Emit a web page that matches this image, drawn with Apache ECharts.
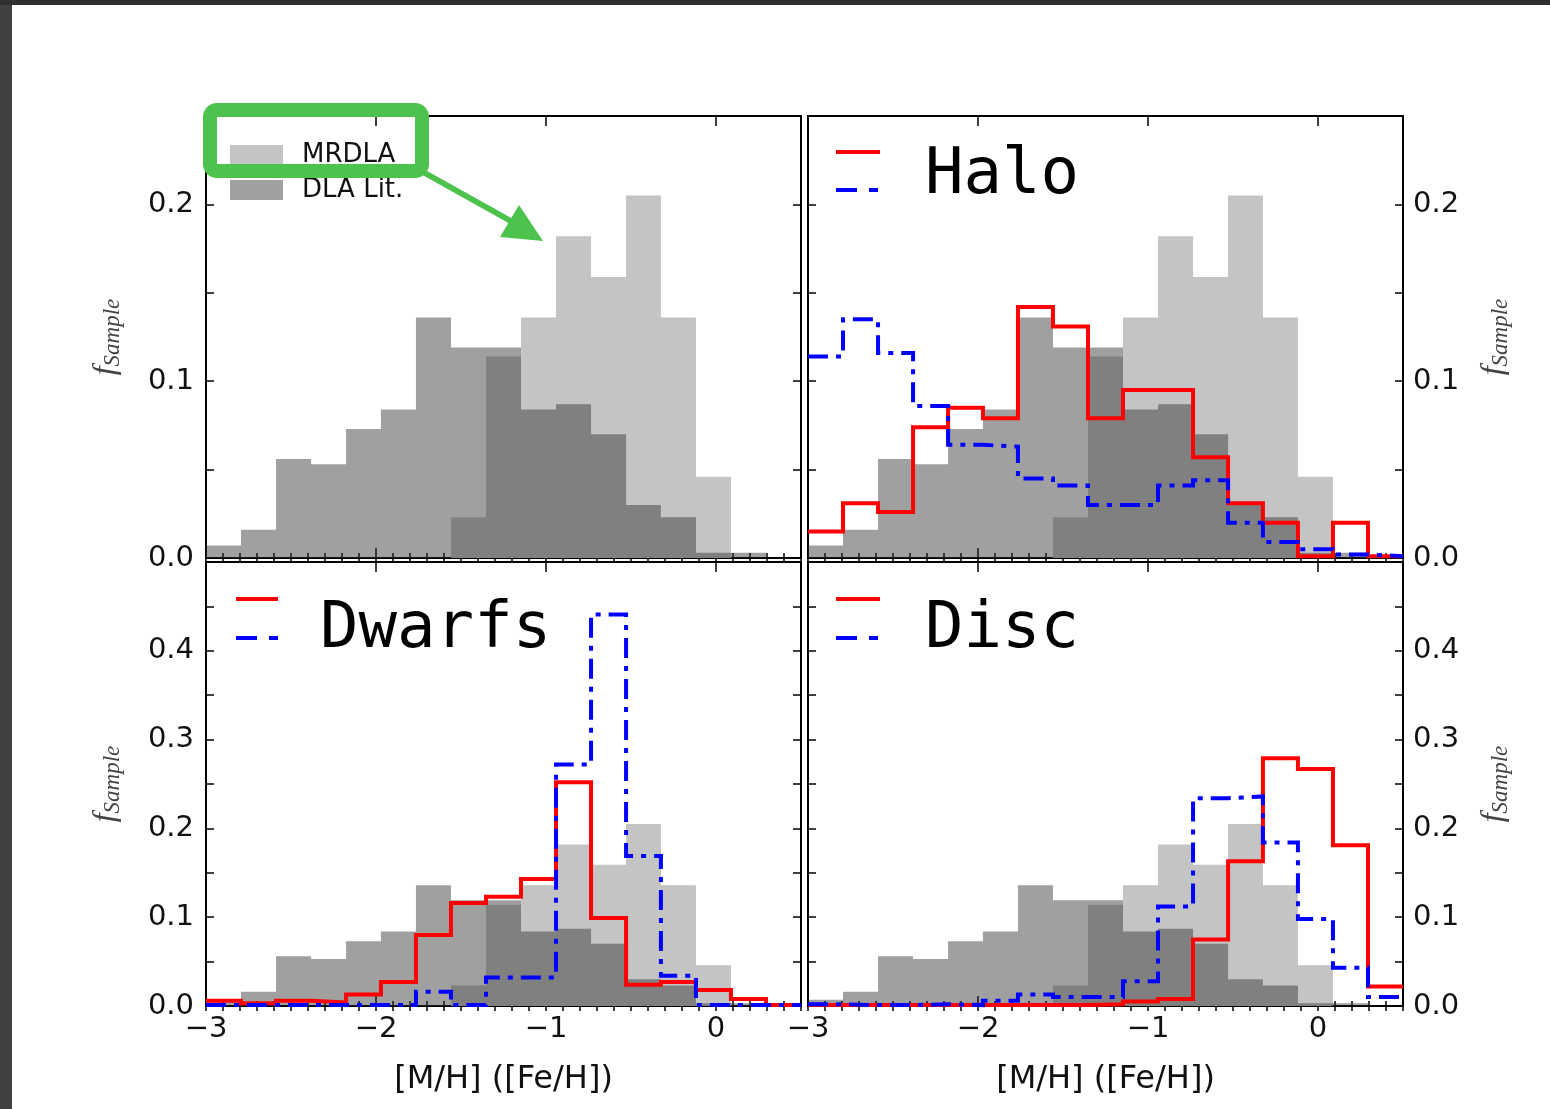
<!DOCTYPE html>
<html><head><meta charset="utf-8">
<script src="https://cdn.jsdelivr.net/npm/echarts@6/dist/echarts.min.js"></script>
<style>html,body{margin:0;padding:0;background:#fff;}#c{width:1550px;height:1109px;}</style>
</head><body><div id="c"></div>
<script>
// ---- data ----
const binEdges = [-3.000, -2.794, -2.588, -2.382, -2.176, -1.971, -1.765, -1.559, -1.353, -1.147, -0.941, -0.735, -0.529, -0.324, -0.118, 0.088, 0.294, 0.500];
const mrdla  = [0, 0, 0, 0, 0, 0, 0, 0.023, 0.114, 0.136, 0.182, 0.159, 0.205, 0.136, 0.046, 0, 0];
const dlaLit = [0.007, 0.016, 0.056, 0.053, 0.073, 0.084, 0.136, 0.119, 0.119, 0.084, 0.087, 0.070, 0.030, 0.023, 0.003, 0.003, 0];
const haloRed  = [0.015, 0.031, 0.026, 0.074, 0.085, 0.079, 0.142, 0.131, 0.079, 0.095, 0.095, 0.057, 0.031, 0.020, 0.001, 0.020, 0.001];
const haloBlue = [0.114, 0.135, 0.116, 0.086, 0.064, 0.063, 0.045, 0.041, 0.030, 0.030, 0.041, 0.044, 0.020, 0.009, 0.005, 0.002, 0.001];
const dwarfsRed  = [0.006, 0.003, 0.006, 0.004, 0.013, 0.027, 0.080, 0.116, 0.123, 0.143, 0.252, 0.099, 0.024, 0.027, 0.018, 0.008, 0.001];
const dwarfsBlue = [0.001, 0.001, 0.001, 0.001, 0.001, 0.001, 0.016, 0.001, 0.032, 0.032, 0.272, 0.441, 0.169, 0.034, 0.001, 0.001, 0.001];
const discRed  = [0.001, 0.001, 0.001, 0.001, 0.001, 0.001, 0.001, 0.001, 0.002, 0.005, 0.008, 0.075, 0.163, 0.279, 0.267, 0.181, 0.022];
const discBlue = [0.002, 0.001, 0.001, 0.002, 0.001, 0.006, 0.013, 0.010, 0.010, 0.028, 0.112, 0.234, 0.236, 0.184, 0.098, 0.043, 0.010];
const xTickLabels = ['\u22123', '\u22122', '\u22121', '0'];
const yTickLabelsTop = ['0.0', '0.1', '0.2'];
const yTickLabelsBottom = ['0.0', '0.1', '0.2', '0.3', '0.4'];
const panelTitles = ['', 'Halo', 'Dwarfs', 'Disc'];
const xAxisTitle = '[M/H] ([Fe/H])';

// ---- helpers ----
function stepData(vals) {
  return binEdges.map((e, i) => [e, vals[Math.min(i, vals.length - 1)]]);
}
const FONT = 'DejaVu Sans';
const grids = [
  {left: 206, top: 116, width: 595, height: 442},
  {left: 808, top: 116, width: 595, height: 442},
  {left: 206, top: 562, width: 595, height: 444},
  {left: 808, top: 562, width: 595, height: 444}
];
const yMax = [0.25, 0.25, 0.5, 0.5];
const frameLine = {show: true, onZero: false, lineStyle: {color: '#000', width: 2}};
const tickStyle = {color: '#000', width: 1.5};
const ySubName = {
  name: '{f|f}{s|Sample}',
  nameLocation: 'middle',
  nameRotate: 90,
  nameTextStyle: {
    rich: {
      f: {fontFamily: 'Liberation Serif', fontStyle: 'italic', fontSize: 32, color: '#444'},
      s: {fontFamily: 'Liberation Serif', fontStyle: 'italic', fontSize: 23, color: '#444', padding: [14, 0, 0, 0]}
    }
  }
};

const xAxes = [], yAxes = [];
grids.forEach((g, gi) => {
  const bottomRow = gi >= 2;
  const xLabelFmt = v => {
    const k = Math.round(v + 3);
    return (Math.abs(v - Math.round(v)) < 1e-6 && k >= 0 && k < xTickLabels.length) ? xTickLabels[k] : '';
  };
  ['bottom', 'top'].forEach(pos => {
    xAxes.push({
      gridIndex: gi, type: 'value', position: pos, min: -3, max: 0.5, interval: 1,
      axisLine: frameLine,
      axisTick: {show: true, inside: true, length: 10, lineStyle: tickStyle},
      axisLabel: {show: pos === 'bottom' && bottomRow, formatter: xLabelFmt, margin: 9,
                  fontFamily: FONT, fontSize: 29, color: '#111'},
      splitLine: {show: false},
      name: (pos === 'bottom' && bottomRow) ? xAxisTitle : '',
      nameLocation: 'middle', nameGap: 58,
      nameTextStyle: {fontFamily: FONT, fontSize: 32, color: '#111'}
    });
    xAxes.push({
      gridIndex: gi, type: 'value', position: pos, min: -3, max: 0.5, interval: 0.1,
      axisLine: {show: false},
      axisTick: {show: true, inside: true, length: 5, lineStyle: tickStyle},
      axisLabel: {show: false},
      splitLine: {show: false}
    });
  });
  const labels = bottomRow ? yTickLabelsBottom : yTickLabelsTop;
  const yFmt = v => {
    const k = Math.round(v * 10);
    return (Math.abs(v * 10 - k) < 1e-6 && k < labels.length) ? labels[k] : '';
  };
  const labelSide = gi % 2 === 0 ? 'left' : 'right';
  ['left', 'right'].forEach(pos => {
    const ax = {
      gridIndex: gi, type: 'value', position: pos, min: 0, max: yMax[gi], interval: 0.05,
      axisLine: frameLine,
      axisTick: {show: true, inside: true, length: 8, lineStyle: tickStyle},
      axisLabel: {show: pos === labelSide, formatter: yFmt, margin: pos === 'left' ? 12 : 10,
                  fontFamily: FONT, fontSize: 29, color: '#111'},
      splitLine: {show: false}
    };
    if (pos === labelSide) {
      Object.assign(ax, ySubName, {nameGap: pos === 'left' ? 82 : 72});
    }
    yAxes.push(ax);
  });
});

const series = [];
const redSets = [null, haloRed, dwarfsRed, discRed];
const blueSets = [null, haloBlue, dwarfsBlue, discBlue];
const seriesNames = [null, 'Halo', 'Dwarfs', 'Disc'];
grids.forEach((g, gi) => {
  const xi = gi * 4, yi = gi * 2;
  const base = {type: 'line', step: 'end', symbol: 'none', showSymbol: false, animation: false,
                xAxisIndex: xi, yAxisIndex: yi, silent: true};
  series.push(Object.assign({}, base, {
    name: 'MRDLA', data: stepData(mrdla), z: 1,
    lineStyle: {width: 0}, itemStyle: {color: '#c4c4c4'},
    areaStyle: {color: '#c4c4c4', opacity: 1}
  }));
  series.push(Object.assign({}, base, {
    name: 'DLA Lit.', data: stepData(dlaLit), z: 2,
    lineStyle: {width: 0}, itemStyle: {color: 'rgba(47,47,47,0.46)'},
    areaStyle: {color: 'rgba(47,47,47,0.46)', opacity: 1}
  }));
  if (redSets[gi]) {
    series.push(Object.assign({}, base, {
      name: seriesNames[gi] + ' [M/H]', data: stepData(redSets[gi]), z: 3,
      lineStyle: {width: 4, color: '#ff0000', join: 'miter'}, itemStyle: {color: '#ff0000'}
    }));
    series.push(Object.assign({}, base, {
      name: seriesNames[gi] + ' [Fe/H]', data: stepData(blueSets[gi]), z: 4,
      lineStyle: {width: 4, color: '#0000ff', type: [20, 8, 5, 8], join: 'miter'}, itemStyle: {color: '#0000ff'}
    }));
  }
});

const titleStyle = {fontFamily: 'DejaVu Sans Mono', fontSize: 64, fontWeight: 'normal', color: '#000', lineHeight: 64};
const titles = [
  {text: panelTitles[1], left: 925, top: 144, padding: 0, textStyle: titleStyle},
  {text: panelTitles[2], left: 320, top: 598, padding: 0, textStyle: titleStyle},
  {text: panelTitles[3], left: 925, top: 598, padding: 0, textStyle: titleStyle}
];

const green = '#4dc34d';
function keyPair(x1, x2, yr, yb) {
  return [
    {type: 'line', shape: {x1: x1, y1: yr, x2: x2, y2: yr}, style: {stroke: '#ff0000', lineWidth: 4}, z: 50},
    {type: 'line', shape: {x1: x1, y1: yb, x2: x2, y2: yb}, style: {stroke: '#0000ff', lineWidth: 4, lineDash: [21, 12, 9, 60]}, z: 50}
  ];
}
const graphics = [
  {type: 'rect', shape: {x: 0, y: 0, width: 12, height: 1109}, style: {fill: '#404040'}, z: 60},
  {type: 'rect', shape: {x: 0, y: 0, width: 1550, height: 5}, style: {fill: '#2f2f2f'}, z: 60},
  {type: 'rect', shape: {x: 210, y: 110, width: 212, height: 61, r: 7}, style: {fill: 'transparent', stroke: green, lineWidth: 14}, z: 100},
  {type: 'line', shape: {x1: 423, y1: 172, x2: 518, y2: 225}, style: {stroke: green, lineWidth: 6}, z: 100},
  {type: 'polygon', shape: {points: [[543, 241], [500, 237], [519, 205]]}, style: {fill: green}, z: 100}
].concat(keyPair(836, 880, 152, 190), keyPair(236, 278, 599, 638), keyPair(836, 880, 599, 638));

const chart = echarts.init(document.getElementById('c'), null, {renderer: 'canvas'});
chart.setOption({
  backgroundColor: '#ffffff',
  animation: false,
  title: titles,
  legend: {
    data: ['MRDLA', 'DLA Lit.'], orient: 'vertical', left: 230, top: 142,
    itemWidth: 53, itemHeight: 20, itemGap: 9, icon: 'rect', padding: 0, selectedMode: false,
    textStyle: {fontFamily: FONT, fontSize: 26, color: '#111', lineHeight: 20, padding: [0, 0, 0, 14]}
  },
  grid: grids.map(g => Object.assign({outerBoundsMode: 'none', containLabel: false}, g)),
  xAxis: xAxes,
  yAxis: yAxes,
  series: series,
  graphic: graphics
});
</script></body></html>
